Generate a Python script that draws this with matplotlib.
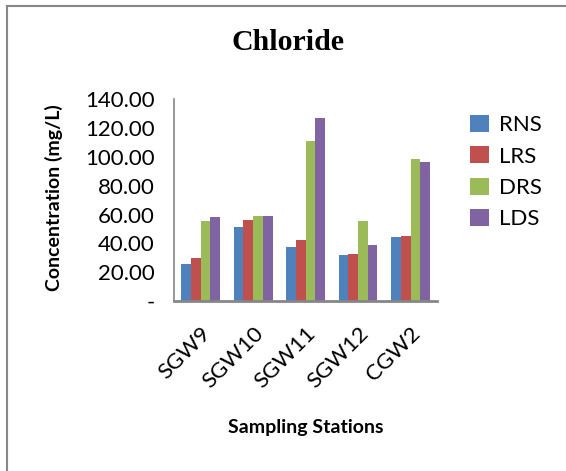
import matplotlib
matplotlib.use("Agg")
import matplotlib.pyplot as plt
from matplotlib.patches import Rectangle
import numpy as np

categories = ["SGW9", "SGW10", "SGW11", "SGW12", "CGW2"]
series_names = ["RNS", "LRS", "DRS", "LDS"]
rns = [26.0, 51.7, 37.8, 32.2, 44.1]
lrs = [30.1, 55.9, 42.0, 32.9, 44.8]
drs = [55.2, 58.7, 110.9, 55.2, 98.4]
lds = [58.0, 58.7, 126.9, 39.2, 96.3]
yticks = [0, 20, 40, 60, 80, 100, 120, 140]
ytick_labels = ["-", "20.00", "40.00", "60.00", "80.00", "100.00", "120.00", "140.00"]

colors = ["#4F81BD", "#C0504D", "#9BBB59", "#8064A2"]
font = "Lato"

W, H = 566, 471
fig = plt.figure(figsize=(W / 100, H / 100), dpi=100)
ax = fig.add_axes([174.4 / W, 1 - 301 / H, (436.8 - 174.4) / W, (301 - 99.3) / H])

x = np.arange(len(categories))
bw = 0.185
data = [rns, lrs, drs, lds]
for i, (vals, name, c) in enumerate(zip(data, series_names, colors)):
    ax.bar(x + (i - 1.5) * bw, vals, width=bw, color=c, label=name, edgecolor="none")

ax.set_xlim(-0.5, len(categories) - 0.5)
ax.set_ylim(0, 140)
ax.set_yticks(yticks)
ax.set_yticklabels(ytick_labels, fontname=font, fontsize=16)
ax.set_xticks(x)
ax.set_xticklabels(categories, fontname=font, fontsize=16, rotation=45, ha="right",
                   rotation_mode="anchor")
ax.tick_params(axis="y", length=0, pad=14)
ax.tick_params(axis="x", length=0, pad=16)
for s in ["top", "right"]:
    ax.spines[s].set_visible(False)
ax.spines["left"].set_color("#868686")
ax.spines["bottom"].set_color("#868686")
ax.spines["left"].set_linewidth(1.2)
ax.spines["bottom"].set_linewidth(2)

ax.set_ylabel("Concentration (mg/L)", fontname=font, fontsize=14, fontweight="bold")
ax.yaxis.set_label_coords(63 / W, 1 - 197.5 / H, transform=fig.transFigure)
fig.text(306 / W, 1 - 427 / H, "Sampling Stations", fontname=font, fontsize=14,
         fontweight="bold", ha="center", va="center")
fig.text(288 / W, 1 - 43 / H, "Chloride", fontname="Liberation Serif", fontsize=21.5,
         fontweight="bold", ha="center", va="center")

leg = fig.legend(loc="upper left", bbox_to_anchor=(470 / W, 1 - 115 / H),
                 frameon=False, prop={"family": font, "size": 16},
                 handlelength=0.85, handleheight=0.8, handletextpad=0.45,
                 labelspacing=0.5, borderpad=0, borderaxespad=0)

fig.patches.append(Rectangle((7 / W, -0.5), 1.2, 1.5 - 6 / H, transform=fig.transFigure,
                             fill=False, edgecolor="#878787", linewidth=1.5))

fig.savefig("out.png", dpi=100)
